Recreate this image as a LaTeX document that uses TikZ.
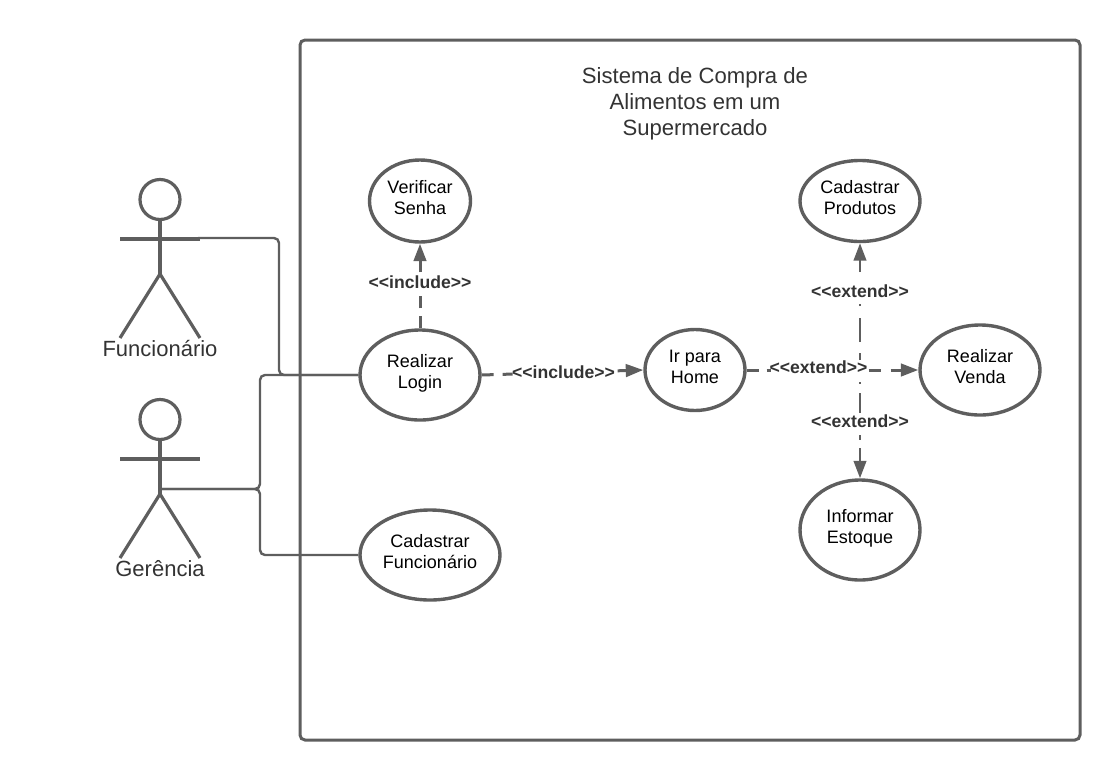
\documentclass[tikz,border=0pt]{standalone}
\usepackage{fontspec}
\setmainfont{Liberation Sans}
\usetikzlibrary{arrows.meta,shapes.geometric}
\definecolor{ln}{HTML}{5E5E5E}
\definecolor{txt}{HTML}{333333}
\newcommand{\liftup}{\rule[-6.5pt]{0pt}{6.5pt}}
\tikzset{
  x=1pt,y=-1pt,
  usecase/.style={draw=ln,line width=3.4pt,ellipse,inner sep=0pt,align=center,text=black,
    font=\fontsize{18}{21}\selectfont},
  assoc/.style={draw=ln,line width=2.4pt,rounded corners=5pt},
  limb/.style={draw=ln,line width=3.2pt},
  depend/.style={draw=ln,line width=3pt,-{Triangle[length=17.5pt,width=12.5pt]}},
  stereo/.style={font=\bfseries\fontsize{17.6}{21}\selectfont,text=txt,inner sep=1pt},
  actorname/.style={font=\fontsize{22}{26}\selectfont,text=txt,inner sep=0pt},
}
\begin{document}
\begin{tikzpicture}
\useasboundingbox (0,0) rectangle (1120,780);
% system frame
\node[draw=ln,line width=3pt,rounded corners=5pt,minimum width=780pt,minimum height=700pt,inner sep=0pt] (frame) at (690,390) {};
\node[font=\fontsize{22.1}{26}\selectfont,text=txt,align=center,inner sep=0pt] (title) at (695,104) {Sistema de Compra de\\Alimentos em um\\Supermercado};
% use cases
\node[usecase,minimum width=101pt,minimum height=82pt] (verificar) at (420,201) {Verificar\\Senha\liftup};
\node[usecase,minimum width=120pt,minimum height=90pt] (login) at (420,375) {Realizar\\Login\liftup};
\node[usecase,minimum width=100pt,minimum height=81pt] (home) at (695,370) {Ir para\\Home\liftup};
\node[usecase,minimum width=120pt,minimum height=81pt] (produtos) at (860,201) {Cadastrar\\Produtos\liftup};
\node[usecase,minimum width=120pt,minimum height=90pt] (venda) at (980,370) {Realizar\\Venda\liftup};
\node[usecase,minimum width=120pt,minimum height=100pt] (estoque) at (860,530) {Informar\\Estoque\liftup};
\node[usecase,minimum width=140pt,minimum height=90pt] (cadfunc) at (430,555) {Cadastrar\\Funcionário\liftup};
% actor Funcionario
\node[draw=ln,line width=3.2pt,circle,minimum size=40pt,inner sep=0pt] (head1) at (160,199.5) {};
\coordinate (armL1) at (120,239);
\coordinate (armR1) at (200,239);
\coordinate (hip1) at (160,274);
\coordinate (legL1) at (120,338);
\coordinate (legR1) at (200,338);
\draw[limb] (head1.south) -- (hip1);
\draw[limb] (armL1) -- (armR1);
\draw[limb,line join=round] (legL1) -- (hip1) -- (legR1);
\node[actorname] (funcionario) at (160,349) {Funcionário};
% actor Gerencia
\node[draw=ln,line width=3.2pt,circle,minimum size=40pt,inner sep=0pt] (head2) at (160,419.5) {};
\coordinate (armL2) at (120,459);
\coordinate (armR2) at (200,459);
\coordinate (hip2) at (160,494);
\coordinate (legL2) at (120,558);
\coordinate (legR2) at (200,558);
\draw[limb] (head2.south) -- (hip2);
\draw[limb] (armL2) -- (armR2);
\draw[limb,line join=round] (legL2) -- (hip2) -- (legR2);
\node[actorname] (gerencia) at (160,569) {Gerência};
% associations
\coordinate (armend1) at (198,238);
\coordinate (bodyend2) at (160,489);
\draw[assoc] (armend1) -- (279,238) -- (279,375) -- (login.west);
\draw[assoc] (bodyend2) -- (260,489) -- (260,375) -- (login.west);
\draw[assoc] (bodyend2) -- (260,489) -- (260,555) -- (cadfunc.west);
% dependencies
\coordinate (junction) at (860,370);
\draw[depend,dash pattern=on 12pt off 8pt on 12pt off 24pt on 60pt] (login.north) -- (verificar.south);
\draw[depend,dash pattern=on 12pt off 9pt on 10pt off 105pt on 60pt] (login.east) -- (home.west);
\draw[depend,dash pattern=on 12pt off 8pt on 4pt off 98pt on 12pt off 10pt on 60pt] (home.east) -- (venda.west);
\draw[depend,line width=2.6pt,dash pattern=on 0pt off 10pt on 7pt off 11pt on 24pt off 12pt on 2pt off 32pt on 80pt] (junction) -- (produtos.south);
\draw[depend,line width=2.6pt,dash pattern=on 0pt off 12pt on 2pt off 9pt on 20pt off 22pt on 5pt off 8pt on 60pt] (junction) -- (estoque.north);
% stereotypes
\node[stereo] (l1) at (420,282.5) {<{}<include>{}>};
\node[stereo] (l2) at (563.5,372.5) {<{}<include>{}>};
\node[stereo] (l3) at (818.5,367.5) {<{}<extend>{}>};
\node[stereo] (l4) at (860,291) {<{}<extend>{}>};
\node[stereo] (l5) at (860,421.5) {<{}<extend>{}>};
\end{tikzpicture}
\end{document}
